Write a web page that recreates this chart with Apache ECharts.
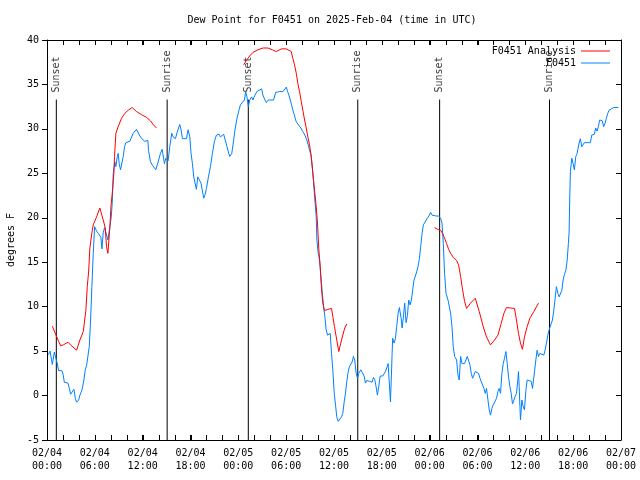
<!DOCTYPE html>
<html>
<head>
<meta charset="utf-8">
<script src="https://cdn.jsdelivr.net/npm/echarts@6/dist/echarts.min.js"></script>
<style>html,body{margin:0;padding:0;background:#fff}#c{width:640px;height:480px}</style>
</head>
<body>
<div id="c"></div>
<script>
// Hours since 2025-02-04 00:00 UTC
const obsHours = [0.17,0.38,0.58,0.67,0.92,1.13,1.29,1.46,1.88,2.04,2.17,2.63,2.80,2.96,3.21,3.38,3.55,3.71,3.97,4.13,4.38,4.63,4.80,4.97,5.30,5.47,5.63,5.80,5.97,6.22,6.47,6.76,6.89,7.05,7.22,7.47,7.64,7.80,7.97,8.06,8.18,8.31,8.51,8.64,8.81,8.93,9.05,9.22,9.56,9.73,9.89,10.39,10.81,11.23,11.65,11.90,12.27,12.65,12.73,12.98,13.23,13.65,14.07,14.23,14.44,14.73,14.90,15.19,15.40,15.65,15.82,16.11,16.32,16.65,16.82,16.99,17.49,17.70,17.91,18.07,18.24,18.41,18.57,18.74,18.91,19.32,19.66,19.83,20.00,20.25,20.50,20.75,21.00,21.25,21.58,21.75,21.91,22.16,22.58,22.75,22.92,23.17,23.33,23.58,23.83,24.08,24.26,24.51,24.76,24.92,25.08,25.26,25.42,25.67,25.83,26.08,26.33,26.58,26.92,27.09,27.34,27.51,27.76,28.01,28.42,28.68,29.18,29.59,29.84,30.02,30.18,30.34,30.52,30.68,30.84,31.02,31.18,31.34,31.59,31.84,32.09,32.34,32.59,32.77,32.93,33.10,33.27,33.43,33.60,33.77,33.85,34.02,34.19,34.35,34.52,34.69,34.85,35.02,35.19,35.44,35.52,35.69,35.85,36.03,36.19,36.35,36.53,36.69,36.94,37.10,37.28,37.44,37.60,37.78,37.94,38.10,38.28,38.44,38.60,38.78,38.94,39.11,39.36,39.61,39.78,39.94,40.11,40.45,40.78,40.95,41.11,41.28,41.45,41.61,41.79,41.95,42.11,42.29,42.45,42.61,42.79,42.95,43.08,43.20,43.29,43.36,43.54,43.70,43.86,44.04,44.20,44.42,44.54,44.70,44.87,45.04,45.21,45.37,45.54,45.71,45.87,46.04,46.21,46.37,46.54,46.71,46.87,47.05,47.21,47.46,47.71,47.96,48.12,48.30,48.55,48.80,49.12,49.37,49.55,49.71,49.87,50.05,50.30,50.46,50.63,50.80,50.96,51.13,51.38,51.55,51.71,51.88,52.05,52.21,52.38,52.55,52.72,52.88,53.05,53.22,53.38,53.55,53.71,53.96,54.13,54.31,54.47,54.81,54.97,55.13,55.31,55.47,55.63,55.81,55.97,56.22,56.39,56.56,56.72,56.89,57.06,57.23,57.39,57.56,57.73,57.89,58.06,58.23,58.39,58.57,58.73,58.89,59.06,59.14,59.23,59.32,59.39,59.57,59.73,59.89,60.07,60.23,60.48,60.73,60.90,61.15,61.32,61.48,61.65,61.82,62.07,62.32,62.48,62.65,62.82,62.99,63.24,63.40,63.57,63.74,63.90,64.08,64.24,64.40,64.58,64.74,64.90,65.08,65.24,65.40,65.49,65.58,65.65,65.83,65.99,66.15,66.33,66.49,66.74,66.90,67.08,67.24,67.41,67.83,68.16,68.33,68.50,68.66,68.83,68.99,69.16,69.33,69.50,69.66,69.83,69.99,70.16,70.34,70.50,70.75,71.09,71.66];
const obsValues = [4.6,5.0,4.0,3.5,4.9,4.9,3.6,2.8,2.8,2.3,1.5,1.4,0.8,0.15,0.25,0.7,-0.3,-0.75,-0.5,0.05,0.6,1.75,2.9,3.4,5.5,8.5,12.25,16.0,19.0,18.5,18.2,17.8,16.5,18.3,18.9,18.9,17.5,18.5,19.5,20.1,21.6,25.0,26.3,25.75,26.9,27.25,26.1,25.4,26.9,28.0,28.45,28.6,29.5,29.95,29.2,28.9,28.6,28.7,27.6,26.3,25.9,25.4,26.7,27.25,27.7,26.1,26.7,26.4,28.0,29.5,29.1,28.9,29.6,30.5,29.9,28.9,28.9,29.9,29.1,27.25,26.1,24.6,23.9,23.2,24.6,23.9,22.2,22.6,23.3,24.6,25.75,27.25,28.6,29.3,29.4,29.1,28.9,29.4,28.0,27.4,26.9,27.2,28.2,29.9,31.2,32.1,32.7,32.8,33.25,34.2,33.6,32.5,33.25,33.6,33.25,33.8,34.2,34.0,34.5,33.8,33.25,32.95,33.25,33.1,33.25,34.1,34.2,34.2,34.4,34.7,34.2,33.8,33.25,32.7,32.1,31.6,31.0,30.7,30.55,30.1,29.7,29.3,28.75,28.2,27.6,27.1,25.75,24.1,22.0,20.1,17.5,16.0,15.25,13.4,11.7,10.0,8.9,7.4,6.8,6.6,7.0,4.75,2.9,0.25,-1.05,-2.4,-2.9,-2.8,-2.4,-2.0,-0.7,0.25,1.55,2.7,3.25,3.25,3.8,4.4,4.0,2.5,1.95,2.5,2.9,2.9,2.2,1.4,1.7,1.6,1.5,2.05,1.8,1.0,0.05,1.0,2.2,2.4,2.2,2.4,2.7,3.1,3.6,3.8,-0.7,2.2,4.75,6.45,5.9,6.4,7.75,9.25,9.9,8.7,7.6,8.8,10.4,8.2,9.0,10.75,10.2,10.75,11.9,13.0,13.2,13.9,14.5,15.4,16.75,18.25,19.2,19.4,19.95,20.3,20.6,20.3,20.4,20.2,20.2,19.95,19.4,17.1,13.75,11.5,10.75,10.75,9.25,7.75,5.5,4.4,4.0,2.3,1.75,4.4,3.6,3.8,3.6,4.0,4.4,4.5,3.45,2.5,1.95,2.3,2.7,2.8,2.5,1.95,1.55,0.8,0.25,0.8,-0.5,-1.6,-2.2,-1.45,-1.05,-0.95,-0.3,0.45,0.8,0.25,2.5,3.6,4.2,4.95,3.6,2.1,1.0,0.25,-0.95,-0.5,-0.1,0.25,1.75,2.7,1.0,-1.25,-2.75,-0.5,-1.25,-1.6,0.6,1.75,1.75,1.6,0.8,0.8,4.0,5.1,4.4,4.75,4.75,4.55,5.1,5.9,6.8,7.4,7.6,8.5,9.6,10.95,12.25,11.5,11.1,11.3,11.85,13.0,13.6,14.1,15.1,17.1,18.4,22.6,25.2,26.7,26.1,25.4,26.9,27.2,28.4,28.9,28.0,28.2,28.45,28.45,28.45,29.3,29.5,29.4,30.1,29.75,30.25,31.0,31.2,30.9,30.25,30.6,31.2,31.75,32.1,32.25,32.4,32.4];

// Analysis series (null = gap)
const anaHours = [0.67,1.13,1.46,1.71,2.04,2.63,2.96,3.71,4.13,4.55,4.88,5.05,5.22,5.38,5.63,5.80,6.22,6.63,7.05,7.30,7.47,7.64,7.72,7.89,8.02,8.22,8.39,8.47,8.64,8.93,9.35,9.77,10.18,10.69,11.23,11.86,12.48,12.98,13.31,13.73,19.0,24.67,25.01,25.42,25.83,26.46,27.09,27.71,28.26,28.76,29.39,30.02,30.64,30.84,31.05,31.27,31.47,31.68,31.89,32.09,32.31,32.52,32.72,32.93,33.15,33.35,33.56,33.77,33.93,34.10,34.27,34.44,34.60,34.81,35.22,35.69,35.85,36.06,36.28,36.60,36.85,37.10,37.35,37.60,43.0,48.62,49.00,49.37,49.62,49.87,50.12,50.38,50.63,50.96,51.38,51.63,51.88,52.13,52.38,52.63,53.13,53.72,54.22,54.72,55.13,55.63,56.14,56.56,56.97,57.31,57.64,58.14,58.64,58.89,59.14,59.39,59.64,59.89,60.23,60.57,61.07,61.65];
const anaValues = [7.8,6.8,6.1,5.6,5.7,6.0,5.7,5.1,6.25,7.2,9.6,12.25,13.9,16.6,18.3,19.2,20.1,21.1,19.75,18.9,16.75,16.0,15.8,19.0,21.25,23.1,25.0,26.9,29.5,30.25,31.2,31.75,32.1,32.4,31.95,31.6,31.3,30.9,30.5,30.1,null,37.2,37.7,38.2,38.6,38.9,39.1,39.1,38.9,38.7,39.0,39.0,38.7,37.9,37.2,36.25,35.1,34.2,33.1,32.1,31.0,30.1,29.1,28.2,26.9,25.0,23.1,21.25,19.4,16.4,14.5,11.9,10.4,9.55,9.7,9.8,8.9,7.75,6.6,4.95,5.9,6.8,7.6,8.05,null,18.9,18.7,18.6,18.25,17.7,17.1,16.45,16.0,15.55,15.2,14.7,13.4,11.9,10.6,9.8,10.4,10.95,9.45,7.75,6.6,5.7,6.25,6.8,8.1,9.25,9.9,9.85,9.8,8.5,7.0,5.9,5.2,6.6,7.75,8.7,9.45,10.4];

const sunHours = [1.17, 15.07, 25.25, 38.98, 49.25, 63.03];
const sunLabels = ['Sunset','Sunrise','Sunset','Sunrise','Sunset','Sunrise'];
const sunLineTop = 33.3;
const yBottom = -5;
const yTop = 40;

// x tick positions (hours), every 2 h; labelled every 6 h
const xTickHours = [0,2,4,6,8,10,12,14,16,18,20,22,24,26,28,30,32,34,36,38,40,42,44,46,48,50,52,54,56,58,60,62,64,66,68,70,72];

const titleText = 'Dew Point for F0451 on 2025-Feb-04 (time in UTC)';
const FONT = 'DejaVu Sans Mono';

function pair(h, v) { return h.map((x, i) => [x, v[i] === null ? '-' : v[i]]); }

function fmtX(h) {
  const day = 4 + Math.floor(h / 24);
  const hh = h % 24;
  return '02/0' + day + '\n' + (hh < 10 ? '0' : '') + hh + ':00';
}

const sunSeries = sunHours.map((t, i) => ({
  type: 'line',
  name: 'sun' + i,
  silent: true,
  symbol: 'none',
  lineStyle: { color: '#000', width: 1 },
  data: [[t, yBottom], [t, sunLineTop]],
  z: 1
}));
sunSeries.push({
  type: 'scatter',
  name: 'sunText',
  silent: true,
  symbolSize: 0,
  data: sunHours.map((t, i) => ({ value: [t, sunLineTop], name: sunLabels[i] })),
  label: {
    show: true, formatter: p => p.name, position: 'top', distance: 7,
    rotate: 90, align: 'left', verticalAlign: 'middle',
    fontFamily: FONT, fontSize: 10, color: '#000'
  },
  z: 1
});

// x-axis tick marks on bottom and top frame, placed through the axis scale
const tickSeries = {
  type: 'custom',
  name: 'xTicks',
  silent: true,
  clip: false,
  data: xTickHours.map(h => [h, yBottom]),
  encode: { x: 0, y: 1 },
  renderItem: function (params, api) {
    const h = api.value(0);
    const b = api.coord([h, yBottom]);
    const t = api.coord([h, yTop]);
    const x = Math.round(b[0]) + 0.5;
    const st = { stroke: '#000', lineWidth: 1 };
    return {
      type: 'group',
      children: [
        { type: 'line', shape: { x1: x, y1: b[1], x2: x, y2: b[1] - 5 }, style: st },
        { type: 'line', shape: { x1: x, y1: t[1], x2: x, y2: t[1] + 5 }, style: st }
      ]
    };
  },
  z: 4
};

const chart = echarts.init(document.getElementById('c'), null, { renderer: 'canvas' });
function axisLine() { return { show: true, onZero: false, lineStyle: { color: '#000', width: 1 } }; }
chart.setOption({
  animation: false,
  backgroundColor: '#fff',
  title: {
    text: titleText, left: 327, top: 10, textAlign: 'center',
    textStyle: { fontFamily: FONT, fontSize: 10, fontWeight: 'normal', color: '#000' }
  },
  legend: {
    data: ['F0451 Analysis', 'F0451'],
    orient: 'vertical', align: 'right', right: 25, top: 41,
    icon: 'rect', itemWidth: 29, itemHeight: 1, itemGap: 2,
    textStyle: { fontFamily: FONT, fontSize: 10, color: '#000' }
  },
  grid: { left: 47, right: 19, top: 40, bottom: 40, containLabel: false, outerBoundsMode: 'none' },
  xAxis: [
    {
      type: 'value', min: 0, max: 72, interval: 6, position: 'bottom',
      axisLine: axisLine(), splitLine: { show: false },
      axisTick: { show: true, inside: true, length: 5, lineStyle: { color: '#000', width: 1 } },
      axisLabel: { formatter: fmtX, fontFamily: FONT, fontSize: 10, color: '#000', lineHeight: 13, margin: 7 }
    },
    {
      type: 'value', min: 0, max: 72, interval: 6, position: 'top',
      axisLine: axisLine(), splitLine: { show: false },
      axisTick: { show: true, inside: true, length: 5, lineStyle: { color: '#000', width: 1 } },
      axisLabel: { show: false }
    }
  ],
  yAxis: [
    {
      type: 'value', min: yBottom, max: yTop, interval: 5, position: 'left',
      axisLine: axisLine(), splitLine: { show: false },
      name: 'degrees F', nameLocation: 'middle', nameGap: 31, nameRotate: 90,
      nameTextStyle: { fontFamily: FONT, fontSize: 10, color: '#000' },
      axisTick: { show: true, inside: false, length: 5, lineStyle: { color: '#000' } },
      axisLabel: { fontFamily: FONT, fontSize: 10, color: '#000', margin: 8 }
    },
    {
      type: 'value', min: yBottom, max: yTop, interval: 5, position: 'right',
      axisLine: axisLine(), splitLine: { show: false },
      axisTick: { show: true, inside: true, length: 5, lineStyle: { color: '#000' } },
      axisLabel: { show: false }
    }
  ],
  series: sunSeries.concat([
    tickSeries,
    {
      type: 'line', name: 'F0451', symbol: 'none', connectNulls: false,
      lineStyle: { color: '#0080ff', width: 1 }, itemStyle: { color: '#0080ff' },
      data: pair(obsHours, obsValues), z: 2
    },
    {
      type: 'line', name: 'F0451 Analysis', symbol: 'none', connectNulls: false,
      lineStyle: { color: '#ff0000', width: 1 }, itemStyle: { color: '#ff0000' },
      data: pair(anaHours, anaValues), z: 3
    }
  ])
});
</script>
</body>
</html>
